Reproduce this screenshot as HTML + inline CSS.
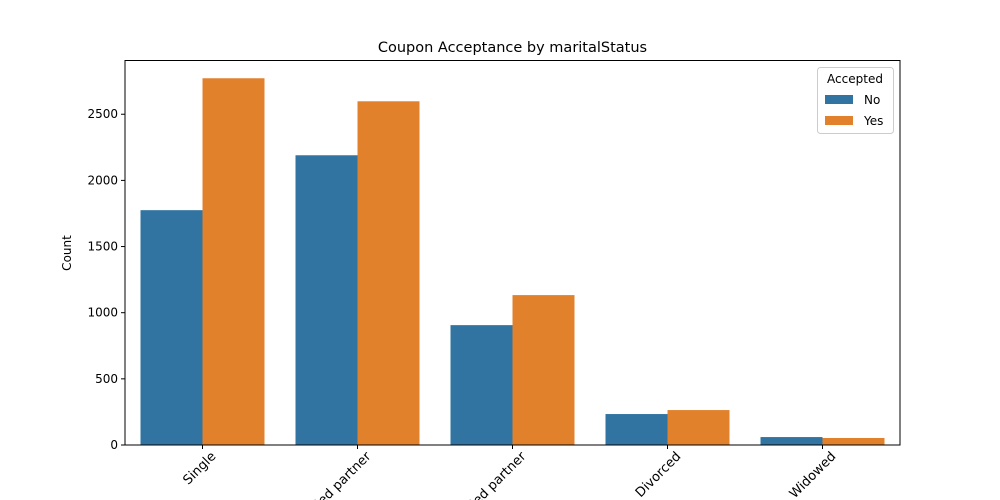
<!DOCTYPE html>
<html><head><meta charset="utf-8"><style>
html,body{margin:0;background:#fff;overflow:hidden;width:1000px;height:500px;}
svg{display:block;}
svg text{font-family:"DejaVu Sans","Liberation Sans",sans-serif;}
</style></head><body>
<svg id="chart" width="1000" height="500" viewBox="0 0 1000 500">
<rect width="1000" height="500" fill="#fff"/>
<text x="512.5" y="52" text-anchor="middle" font-size="14.5" fill="#000">Coupon Acceptance by maritalStatus</text>
<text transform="translate(71,253) rotate(-90)" text-anchor="middle" font-size="12">Count</text>
<g id="bars"></g>
<g id="axes"></g>
<rect x="125" y="60.5" width="775" height="384.5" fill="none" stroke="#000" stroke-width="1"/>
<g>
<rect x="817.5" y="67.5" width="76" height="66" rx="3" fill="#fff" stroke="#ccc"/>
<text x="855" y="83" text-anchor="middle" font-size="12">Accepted</text>
<rect x="825" y="95" width="28" height="9" fill="#3274a1"/>
<text x="864" y="104" font-size="12">No</text>
<rect x="825" y="116" width="28" height="9" fill="#e1812c"/>
<text x="864" y="125" font-size="12">Yes</text>
</g>
</svg>
<script>
const categories = ["Single","Married partner","Unmarried partner","Divorced","Widowed"];
const noValues = [1775, 2190, 906, 234, 60];
const yesValues = [2772, 2598, 1133, 264, 53];
const yTicks = [0, 500, 1000, 1500, 2000, 2500];

const NS = "http://www.w3.org/2000/svg";
const pLeft = 125, pRight = 900, pTop = 60, pBottom = 445;
const yMax = 2910;
const yS = v => pBottom - v / yMax * (pBottom - pTop);
const band = (pRight - pLeft) / categories.length;
const xc = i => pLeft + band * (i + 0.5);
const bw = band * 0.4;
const barsG = document.getElementById("bars");
const axesG = document.getElementById("axes");
function mk(tag, attrs, parent) {
  const e = document.createElementNS(NS, tag);
  for (const k in attrs) e.setAttribute(k, attrs[k]);
  parent.appendChild(e);
  return e;
}
categories.forEach((c, i) => {
  const r1 = mk("rect", {x: xc(i) - bw, y: yS(noValues[i]), width: bw, height: pBottom - yS(noValues[i]), fill: "#3274a1"}, barsG);
  
  
  const r2 = mk("rect", {x: xc(i), y: yS(yesValues[i]), width: bw, height: pBottom - yS(yesValues[i]), fill: "#e1812c"}, barsG);
  
  
  const t = mk("line", {x1: xc(i), x2: xc(i), y1: pBottom, y2: pBottom + 4, stroke: "#000"}, axesG);
  
  
  const lb = mk("text", {transform: `translate(${xc(i) + 14},${pBottom + 12}) rotate(-45)`, "text-anchor": "end", "font-size": 13}, axesG);
  lb.textContent = c;
  
  
});
yTicks.forEach(v => {
  const t = mk("line", {x1: pLeft - 4, x2: pLeft, y1: yS(v), y2: yS(v), stroke: "#000"}, axesG);
  
  
  const lb = mk("text", {x: pLeft - 7, y: yS(v) + 4, "text-anchor": "end", "font-size": 12}, axesG);
  lb.textContent = v;
  
  
});
</script>
</body></html>
